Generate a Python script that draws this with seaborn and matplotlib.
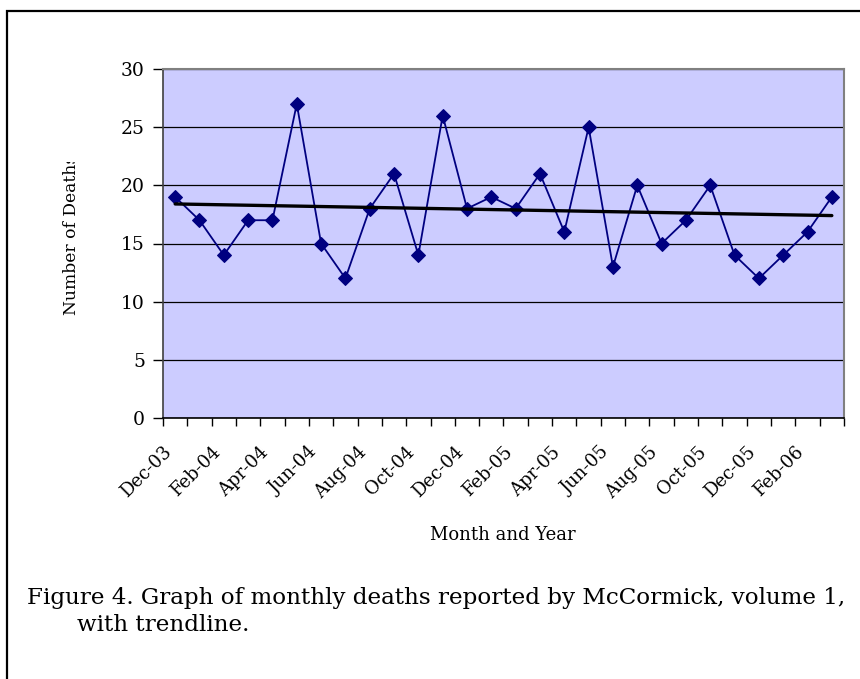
import matplotlib
matplotlib.use("Agg")
import matplotlib.pyplot as plt
from matplotlib.patches import Rectangle
from matplotlib.transforms import Bbox, TransformedBbox
import numpy as np
import pandas as pd
import seaborn as sns

# monthly deaths, Dec-03 .. Mar-06
months = ["Dec-03", "Jan-04", "Feb-04", "Mar-04", "Apr-04", "May-04", "Jun-04",
          "Jul-04", "Aug-04", "Sep-04", "Oct-04", "Nov-04", "Dec-04", "Jan-05",
          "Feb-05", "Mar-05", "Apr-05", "May-05", "Jun-05", "Jul-05", "Aug-05",
          "Sep-05", "Oct-05", "Nov-05", "Dec-05", "Jan-06", "Feb-06", "Mar-06"]
deaths = [19, 17, 14, 17, 17, 27, 15, 12, 18, 21, 14, 26, 18, 19,
          18, 21, 16, 25, 13, 20, 15, 17, 20, 14, 12, 14, 16, 19]

# trendline end points
trend_months = ["Dec-03", "Mar-06"]
trend_values = [18.4, 17.4]

y_ticks = [0, 5, 10, 15, 20, 25, 30]

sns.set_style("white")
plt.rcParams["font.family"] = ["DejaVu Serif"]
plt.rcParams["text.color"] = "black"
plt.rcParams["xtick.color"] = "black"
plt.rcParams["ytick.color"] = "black"

W, H = 860, 679
fig = plt.figure(figsize=(W / 100, H / 100), dpi=100)
ax = fig.add_axes([163 / W, 1 - 418 / H, (844 - 163) / W, (418 - 69) / H])
ax.set_facecolor("#CCCCFF")

df = pd.DataFrame({"idx": np.arange(len(months)), "month": months, "deaths": deaths})
trend_df = pd.DataFrame({"idx": [months.index(m) for m in trend_months],
                         "value": trend_values})

sns.lineplot(data=df, x="idx", y="deaths", ax=ax, color="#000080", linewidth=1.3,
             marker="D", markersize=7, markeredgecolor="#000080", zorder=3)
sns.lineplot(data=trend_df, x="idx", y="value", ax=ax, color="black",
             linewidth=2.4, zorder=4)

ax.set_xlim(-0.5, len(months) - 0.5)
ax.set_ylim(0, 30)
ax.set_yticks(y_ticks)
ax.set_yticklabels([str(v) for v in y_ticks], fontsize=13.5)
ax.set_xticks(np.arange(0, len(months), 2))
ax.set_xticklabels(months[::2], rotation=45, ha="right", fontsize=13)
ax.set_xticks(np.arange(-0.5, len(months)), minor=True)
ax.tick_params(axis="x", which="major", length=0, pad=18)
ax.tick_params(axis="x", which="minor", length=6, width=1, color="black",
               direction="out", bottom=True)
ax.tick_params(axis="y", which="major", length=7, width=1, color="black",
               direction="out", left=True, pad=6)

ax.yaxis.grid(True, color="black", linewidth=0.9)
ax.xaxis.grid(False)
ax.set_axisbelow(True)

for side in ["top", "right"]:
    ax.spines[side].set_color("#808080")
    ax.spines[side].set_linewidth(1.5)
ax.spines["left"].set_color("#404040")
ax.spines["bottom"].set_color("black")
ax.spines["left"].set_linewidth(1.2)
ax.spines["bottom"].set_linewidth(1.2)

ax.set_xlabel("")
ax.set_ylabel("")

fig.text(503 / W, 1 - 535 / H, "Month and Year", ha="center", va="center",
         fontsize=13)

# y label is cut off at its top end in the original
ylab = fig.text(72 / W, 1 - 315 / H, "Number of Deaths", rotation=90,
                ha="center", va="bottom", fontsize=12.3)
ylab.set_clip_box(TransformedBbox(Bbox([[0, 0], [1, 1 - 162 / H]]), fig.transFigure))
ylab.set_clip_on(True)

fig.text(27 / W, 1 - 598 / H,
         "Figure 4. Graph of monthly deaths reported by McCormick, volume 1,",
         ha="left", va="center", fontsize=16.6)
fig.text(77 / W, 1 - 625 / H, "with trendline.", ha="left", va="center",
         fontsize=16.6)

# frame around the figure (runs off the right and bottom edges)
fig.patches.append(Rectangle((6.5 / W, -0.1), 2, 1.1 - 11.5 / H,
                             transform=fig.transFigure, fill=False,
                             edgecolor="black", linewidth=1.6))

fig.savefig("out.png", dpi=100)
